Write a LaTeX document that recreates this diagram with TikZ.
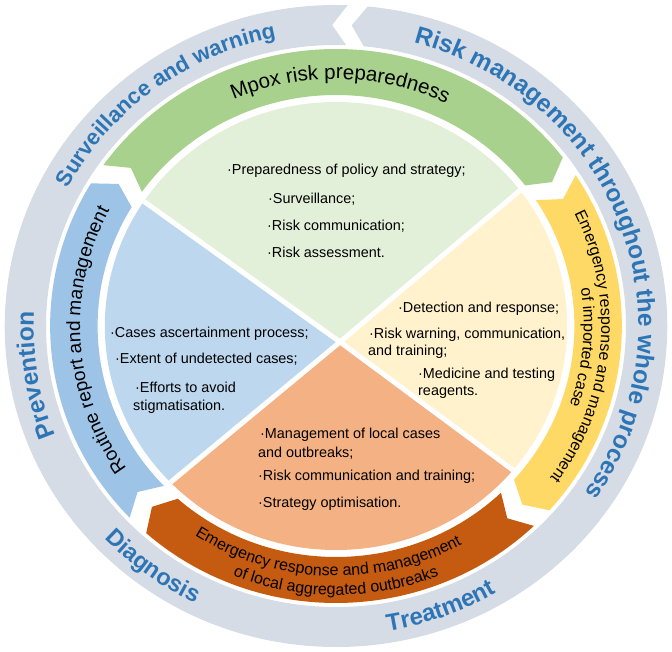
\documentclass[tikz,border=0pt]{standalone}
\usepackage{fontspec}
\setmainfont{Liberation Sans}
\usetikzlibrary{decorations.text}
\definecolor{ringgray}{HTML}{D6DCE5}
\definecolor{titleblue}{HTML}{2E75B6}
\definecolor{bandgreen}{HTML}{A9D18E}
\definecolor{sectgreen}{HTML}{E2F0D9}
\definecolor{bandyellow}{HTML}{FFD966}
\definecolor{sectyellow}{HTML}{FFF2CC}
\definecolor{bandorange}{HTML}{C55A11}
\definecolor{sectorange}{HTML}{F4B183}
\definecolor{bandblue}{HTML}{9DC3E6}
\definecolor{sectblue}{HTML}{BDD7EE}
\tikzset{
  pietext/.style={anchor=base west, inner sep=0pt, font=\fontsize{14.4}{17}\selectfont},
  sepline/.style={white, line width=5pt},
}
\newcommand{\ArrowBand}[3]{%
  \fill[#1] (#2:277) arc[start angle=#2, end angle=#3, radius=277]
    -- ({#3-3}:254) -- (#3:231) arc[start angle=#3, end angle=#2, radius=231]
    -- ({#2-3}:254) -- cycle;}
\newcommand{\TopText}[4]{%
  \path[decorate, decoration={text along path, text align=center,
     text={|#3|#4}}] ({#1+85}:#2) arc[start angle={#1+85}, end angle={#1-85}, radius=#2];}
\newcommand{\BotText}[4]{%
  \path[decorate, decoration={text along path, text align=center,
     text={|#3|#4}}] ({#1-85}:#2) arc[start angle={#1-85}, end angle={#1+85}, radius=#2];}
\newcommand{\RingFont}[1]{\fontsize{#1}{#1}\selectfont\bfseries\color{titleblue}}
\begin{document}
\begin{tikzpicture}[x=1.032pt, y=1pt]
\useasboundingbox (-325.58,-325) rectangle (325.58,326);
% outer gray ring (counterclockwise arrow)
\fill[ringgray] (88:321) arc[start angle=88, end angle=444.5, radius=321]
  -- (447.1:301) -- (444.5:281) arc[start angle=444.5, end angle=88, radius=281]
  -- (90.7:301) -- cycle;
% middle bands
\ArrowBand{bandgreen}{144.5}{37.5}
\ArrowBand{bandyellow}{33}{-41.7}
\ArrowBand{bandorange}{-46.2}{-131.6}
\ArrowBand{bandblue}{-136.2}{-211}
% pie
\coordinate (J) at (3.9,-16);
\begin{scope}
  \clip (0,0) circle (224);
  \fill[sectgreen] (J) -- +(41:400) -- +(92:400) -- +(143.5:400) -- cycle;
  \fill[sectblue] (J) -- +(143.5:400) -- +(182:400) -- +(220.5:400) -- cycle;
  \fill[sectorange] (J) -- +(220.5:400) -- +(271.5:400) -- +(322.6:400) -- cycle;
  \fill[sectyellow] (J) -- +(-37.4:400) -- +(1.8:400) -- +(41:400) -- cycle;
  \draw[sepline] (J) -- +(41:400);
  \draw[sepline] (J) -- +(143.5:400);
  \draw[sepline] (J) -- +(220.5:400);
  \draw[sepline] (J) -- +(-37.4:400);
\end{scope}
% outer ring texts
\TopText{127.4}{294}{\RingFont{22}}{Surveillance and warning}
\TopText{20}{293}{\RingFont{24.5}}{Risk management throughout the whole process}
\TopText{189.3}{293}{\RingFont{24.5}}{Prevention}
\BotText{232.8}{309}{\RingFont{23.5}}{Diagnosis}
\BotText{290.4}{309}{\RingFont{24}}{Treatment}
% band texts
\TopText{89}{247}{\fontsize{20.5}{20.5}\selectfont}{Mpox risk preparedness}
\TopText{183.6}{248}{\fontsize{19}{19}\selectfont}{Routine report and management}
\TopText{-5}{257}{\fontsize{16}{16}\selectfont}{Emergency response and management}
\TopText{-5}{240}{\fontsize{16}{16}\selectfont}{of imported case}
\BotText{268}{250}{\fontsize{16}{16}\selectfont}{Emergency response and management}
\BotText{270}{269}{\fontsize{16}{16}\selectfont}{of local aggregated outbreaks}
% pie texts (pixel coordinates)
\begin{scope}[x=1pt, y=-1pt, shift={(-336pt,326pt)}]
  \node[pietext] (g1) at (227,175) {·Preparedness of policy and strategy;};
  \node[pietext] (g2) at (268,203) {·Surveillance;};
  \node[pietext] (g3) at (267,230) {·Risk communication;};
  \node[pietext] (g4) at (267,257) {·Risk assessment.};
  \node[pietext] (b1) at (110,337) {·Cases ascertainment process;};
  \node[pietext] (b2) at (115,363) {·Extent of undetected cases;};
  \node[pietext] (b3) at (135,392) {·Efforts to avoid};
  \node[pietext] (b4) at (133,410) {stigmatisation.};
  \node[pietext] (y1) at (398,312) {·Detection and response;};
  \node[pietext] (y2) at (369,338) {·Risk warning, communication,};
  \node[pietext] (y3) at (368,355) {and training;};
  \node[pietext] (y4) at (418,378) {·Medicine and testing};
  \node[pietext] (y5) at (418,395) {reagents.};
  \node[pietext] (o1) at (260,438) {·Management of local cases};
  \node[pietext] (o2) at (258,457) {and outbreaks;};
  \node[pietext] (o3) at (258,480) {·Risk communication and training;};
  \node[pietext] (o4) at (258,507) {·Strategy optimisation.};
\end{scope}
\end{tikzpicture}
\end{document}
